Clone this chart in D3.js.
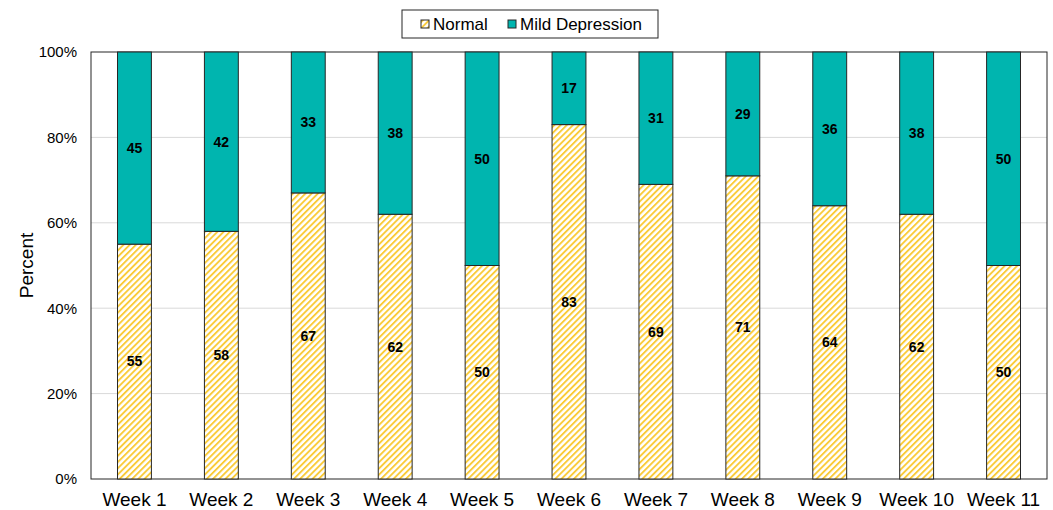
<!DOCTYPE html>
<html>
<head>
<meta charset="utf-8">
<script src="https://cdn.jsdelivr.net/npm/d3@7"></script>
<style>
  body { margin: 0; background: #fff; }
  svg { display: block; font-family: "Liberation Sans", Arial, sans-serif; }
</style>
</head>
<body>
<svg id="chart" width="1053" height="510"></svg>
<script>
// Weekly share of respondents by mood category (percent)
const weeks = ["Week 1", "Week 2", "Week 3", "Week 4", "Week 5", "Week 6",
               "Week 7", "Week 8", "Week 9", "Week 10", "Week 11"];
const normal = [55, 58, 67, 62, 50, 83, 69, 71, 64, 62, 50];
const mildDepression = [45, 42, 33, 38, 50, 17, 31, 29, 36, 38, 50];
const yTicks = [0, 20, 40, 60, 80, 100];
const seriesNames = ["Normal", "Mild Depression"];

const svg = d3.select("#chart");
const margin = { left: 91, right: 6, top: 52, bottom: 31 };
const W = 1053, H = 510;
const iw = W - margin.left - margin.right;
const ih = H - margin.top - margin.bottom;

const teal = "#00B5AF";
const gold = "#FACB38";

// Diagonal hatch fill for the Normal series
const defs = svg.append("defs");
const pat = defs.append("pattern")
  .attr("id", "hatch")
  .attr("patternUnits", "userSpaceOnUse")
  .attr("width", 4.4).attr("height", 4.4)
  .attr("patternTransform", "rotate(45)");
pat.append("rect").attr("width", 4.4).attr("height", 4.4).attr("fill", "#fff");
pat.append("rect").attr("x", 0).attr("y", 0).attr("width", 1.9).attr("height", 4.4).attr("fill", gold);

const g = svg.append("g").attr("transform", `translate(${margin.left},${margin.top})`);

const x = d3.scaleBand().domain(weeks).range([0, iw]).paddingInner(0.61).paddingOuter(0.305);
const y = d3.scaleLinear().domain([0, 100]).range([ih, 0]);

// Gridlines
g.append("g").selectAll("line").data(yTicks.filter(t => t > 0 && t < 100)).join("line")
  .attr("x1", 0).attr("x2", iw)
  .attr("y1", d => y(d)).attr("y2", d => y(d))
  .attr("stroke", "#d9d9d9").attr("stroke-width", 1);

// Plot area frame
g.append("rect").attr("x", 0).attr("y", 0).attr("width", iw).attr("height", ih)
  .attr("fill", "none").attr("stroke", "#262626").attr("stroke-width", 1);

const rows = weeks.map((w, i) => ({ week: w, normal: normal[i], mild: mildDepression[i] }));
const stack = d3.stack().keys(["normal", "mild"])(rows);
const fills = { normal: "url(#hatch)", mild: teal };

const layers = g.append("g").selectAll("g").data(stack).join("g")
  .attr("fill", d => fills[d.key]);
layers.selectAll("rect").data(d => d).join("rect")
  .attr("x", d => x(d.data.week))
  .attr("width", x.bandwidth())
  .attr("y", d => y(d[1]))
  .attr("height", d => y(d[0]) - y(d[1]))
  .attr("stroke", "#262626").attr("stroke-width", 1);

// Segment value labels
layers.each(function (layer) {
  d3.select(this).selectAll("text").data(layer).join("text")
    .attr("x", d => x(d.data.week) + x.bandwidth() / 2)
    .attr("y", d => y((d[0] + d[1]) / 2))
    .attr("dy", "0.35em")
    .attr("text-anchor", "middle")
    .attr("font-size", 14).attr("font-weight", "bold").attr("fill", "#000")
    .text(d => d.data[layer.key]);
});

// Axes
const yAxis = g.append("g").call(d3.axisLeft(y).tickValues(yTicks).tickFormat(d => d + "%").tickSize(0).tickPadding(14));
yAxis.select(".domain").remove();
yAxis.selectAll("text").attr("font-size", 15).attr("fill", "#000").style("font-family", "Liberation Sans, Arial, sans-serif");

const xAxis = g.append("g").attr("transform", `translate(0,${ih})`)
  .call(d3.axisBottom(x).tickSize(0).tickPadding(14));
xAxis.select(".domain").remove();
xAxis.selectAll("text").attr("font-size", 19).attr("fill", "#000").style("font-family", "Liberation Sans, Arial, sans-serif");

svg.append("text")
  .attr("transform", `translate(33,${margin.top + ih / 2}) rotate(-90)`)
  .attr("text-anchor", "middle")
  .attr("font-size", 19).attr("fill", "#000")
  .text("Percent");

// Legend
const lg = svg.append("g");
lg.append("rect").attr("x", 402).attr("y", 10).attr("width", 256).attr("height", 28)
  .attr("fill", "#fff").attr("stroke", "#262626").attr("stroke-width", 1);
const items = [
  { name: seriesNames[0], fill: "url(#hatch)", x: 421 },
  { name: seriesNames[1], fill: teal, x: 508 }
];
items.forEach(it => {
  lg.append("rect").attr("x", it.x).attr("y", 20).attr("width", 8).attr("height", 8)
    .attr("fill", it.fill).attr("stroke", "#262626").attr("stroke-width", 1);
  lg.append("text").attr("x", it.x + 12).attr("y", 24.5).attr("dy", "0.35em")
    .attr("font-size", 17).attr("fill", "#000").text(it.name);
});
</script>
</body>
</html>
